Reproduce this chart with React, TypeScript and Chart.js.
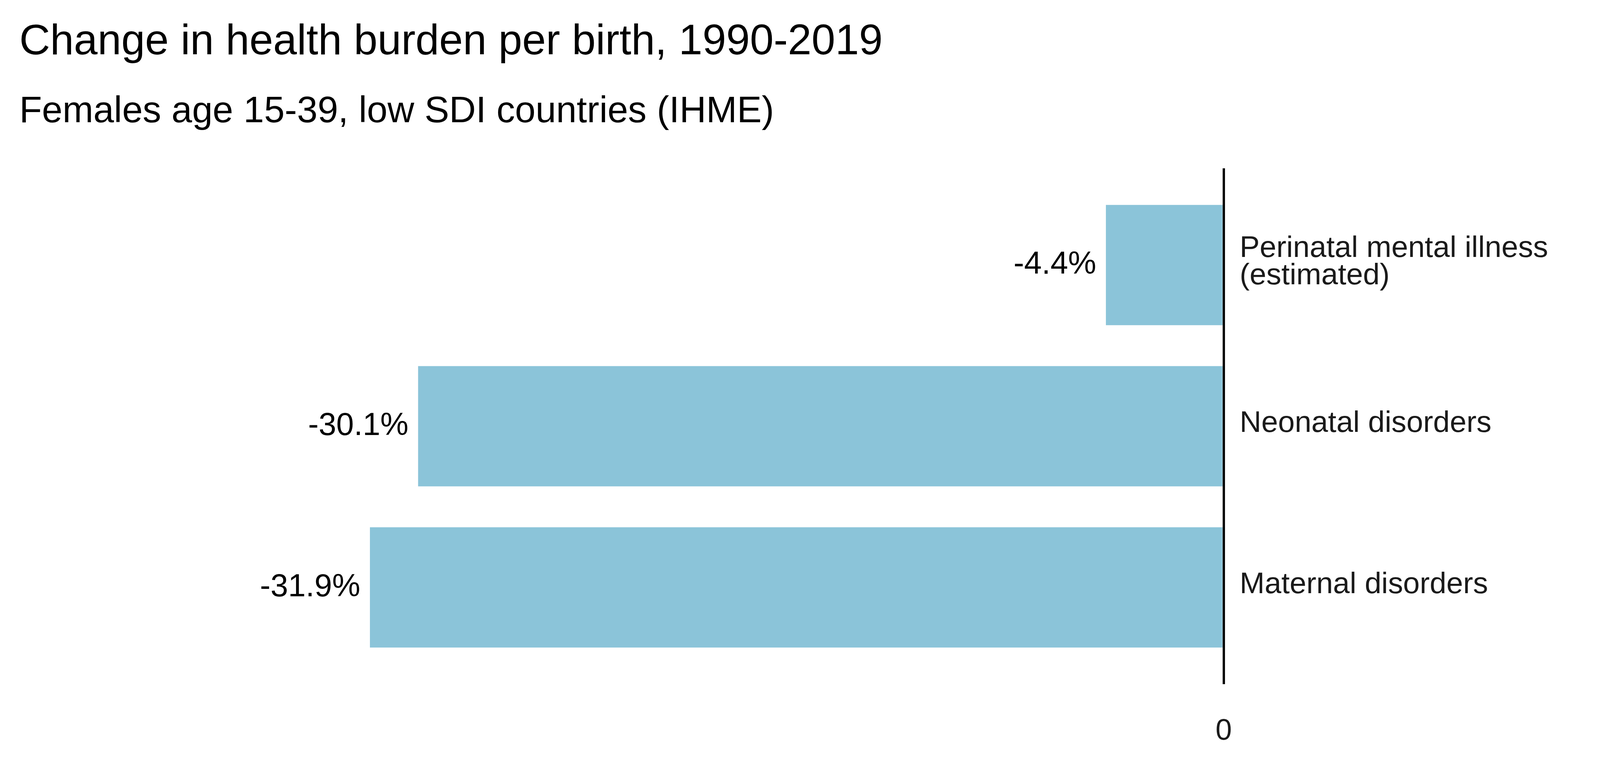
import React, { useEffect, useRef } from "react";
import { Chart, registerables } from "chart.js";

Chart.register(...registerables);

const FONT = "'Liberation Sans', Arial, Helvetica, sans-serif";

const titleText = "Change in health burden per birth, 1990-2019";
const subtitleText = "Females age 15-39, low SDI countries (IHME)";
const categories: string[][] = [
  ["Perinatal mental illness", "(estimated)"],
  ["Neonatal disorders"],
  ["Maternal disorders"],
];
const values: number[] = [-4.4, -30.1, -31.9];
const valueLabels: string[] = ["-4.4%", "-30.1%", "-31.9%"];
const categoryPositions: number[] = [1, 2, 3];
const xTicks: number[] = [0];
const xTickLabels: string[] = ["0"];

// design reference frame
const REF_W = 4800;
const REF_H = 2000;
const MID = 0.3465; // canvas "middle" baseline offset (em) for Liberation Sans

export default function App() {
  const ref = useRef<HTMLCanvasElement | null>(null);

  useEffect(() => {
    if (!ref.current) return;
    const W = window.innerWidth || REF_W;
    const H = window.innerHeight || REF_H;
    const sx = W / REF_W;
    const sy = H / REF_H;

    const fTitle = 128 * sx;
    const fSub = 111 * sx;
    const fValue = 95 * sx;
    const fCat = 90 * sx;
    const fTick = 88 * sx;

    const areaTop = 431 * sy;
    const areaBottom = 1752 * sy;

    const titlePadTop = 147 * sy - (MID + 0.6) * fTitle;
    const subTop = 320 * sy - (MID + 0.6) * fSub;
    const titlePadBottom = subTop - (titlePadTop + 1.2 * fTitle);
    const subPadBottom = areaTop - (subTop + 1.2 * fSub);

    const tickPad = 1873 * sy - areaBottom - 0.6 * fTick;
    const axisH = 1.2 * fTick + 2 * tickPad;
    const padBottom = H - areaBottom - axisH;

    const padLeft = 58 * sx;
    const padRight = 5 * sx;

    const labelPlugin = {
      id: "barLabels",
      afterDatasetsDraw(chart: any) {
        const ctx = chart.ctx;
        const meta = chart.getDatasetMeta(0);
        const xs = chart.scales.x;
        const zero = xs.getPixelForValue(0);
        ctx.save();
        meta.data.forEach((bar: any, i: number) => {
          const { x, y } = bar.getProps(["x", "y"], true);
          ctx.font = `${fValue}px ${FONT}`;
          ctx.fillStyle = "#000000";
          ctx.textAlign = "right";
          ctx.textBaseline = "middle";
          ctx.fillText(valueLabels[i], x - 29 * sx, y);

          ctx.font = `${fCat}px ${FONT}`;
          ctx.fillStyle = "#1a1a1a";
          ctx.textAlign = "left";
          const lines = categories[i];
          const lh = 0.91 * fCat;
          lines.forEach((line, j) => {
            const off = (j - (lines.length - 1) / 2) * lh;
            ctx.fillText(line, zero + 48 * sx, y - 0.09 * fCat + off);
          });
        });
        ctx.restore();
      },
    };

    const chart = new Chart(ref.current, {
      type: "bar",
      data: {
        labels: categories.map((c) => c.join(" ")),
        datasets: [
          {
            data: values.map((v, i) => ({ x: v, y: categoryPositions[i] })) as any,
            backgroundColor: "#8BC4D9",
            borderWidth: 0,
            categoryPercentage: 1,
            barPercentage: 0.746,
          },
        ],
      },
      options: {
        indexAxis: "y",
        animation: false,
        responsive: true,
        maintainAspectRatio: false,
        layout: { padding: { left: padLeft, right: padRight, top: 0, bottom: padBottom } },
        plugins: {
          legend: { display: false },
          tooltip: { enabled: false },
          title: {
            display: true,
            text: titleText,
            align: "start",
            color: "#000000",
            font: { family: FONT, size: fTitle, weight: "normal", lineHeight: 1.2 },
            padding: { top: titlePadTop, bottom: titlePadBottom },
          },
          subtitle: {
            display: true,
            text: subtitleText,
            align: "start",
            color: "#000000",
            font: { family: FONT, size: fSub, weight: "normal", lineHeight: 1.2 },
            padding: { top: 0, bottom: subPadBottom },
          },
        },
        scales: {
          x: {
            type: "linear",
            min: -45,
            max: 14,
            bounds: "data",
            offset: false,
            z: 1,
            border: { display: false },
            grid: {
              color: "#000000",
              lineWidth: 7 * sx,
              drawTicks: false,
              tickLength: 0,
              offset: false,
            },
            afterBuildTicks: (scale: any) => {
              scale.ticks = xTicks.map((v) => ({ value: v }));
            },
            ticks: {
              padding: tickPad,
              color: "#1a1a1a",
              font: { family: FONT, size: fTick, lineHeight: 1.2 },
              callback: (value: any) => {
                const idx = xTicks.indexOf(Number(value));
                return idx >= 0 ? xTickLabels[idx] : "";
              },
            },
          },
          y: {
            type: "linear",
            min: 0.4,
            max: 3.6,
            bounds: "data",
            offset: false,
            grid: { offset: false },
            reverse: true,
            display: false,
            afterBuildTicks: (scale: any) => {
              scale.ticks = categoryPositions.map((v) => ({ value: v }));
            },
          },
        },
      },
      plugins: [labelPlugin],
    });
    return () => chart.destroy();
  }, []);

  return (
    <div
      style={{
        position: "fixed",
        left: 0,
        top: 0,
        width: "100vw",
        height: "100vh",
        background: "#ffffff",
      }}
    >
      <canvas ref={ref} />
    </div>
  );
}
